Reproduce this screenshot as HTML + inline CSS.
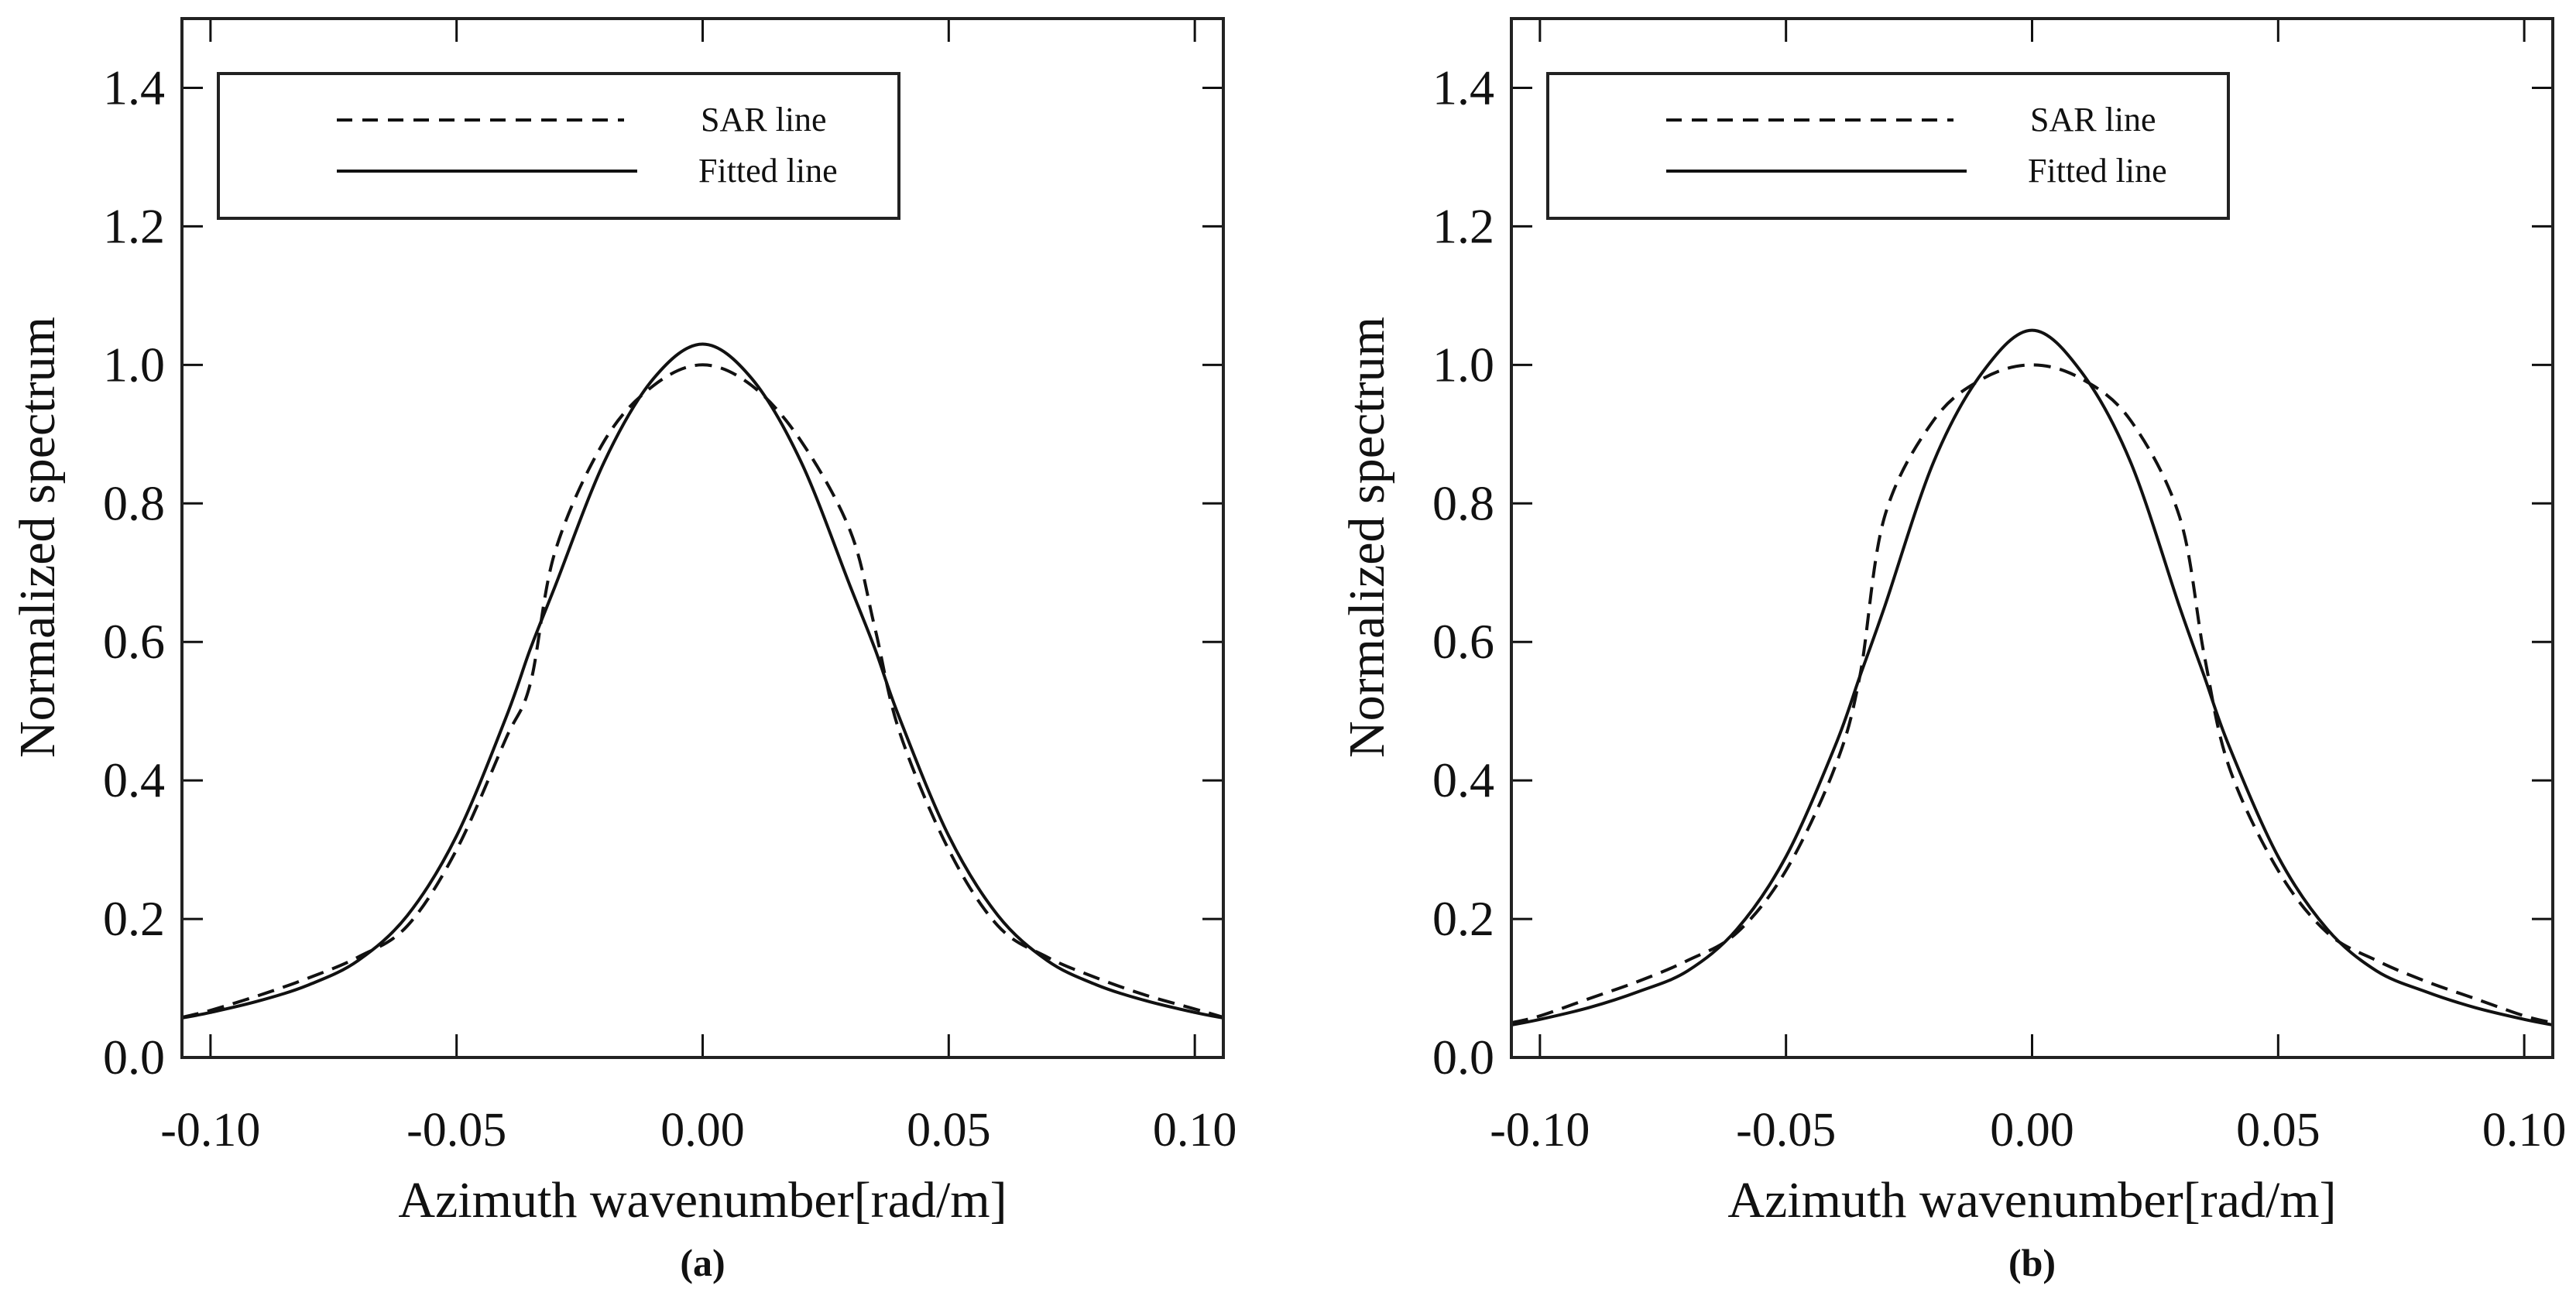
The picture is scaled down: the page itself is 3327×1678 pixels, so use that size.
<!DOCTYPE html>
<html><head><meta charset="utf-8">
<style>
html,body{margin:0;padding:0;background:#fff;}
svg{display:block;font-family:"Liberation Serif",serif;}
</style></head>
<body>
<svg id="fig" width="3327" height="1678" viewBox="0 0 3327 1678" xmlns="http://www.w3.org/2000/svg"></svg>
<script>
const xTicks = [-0.10, -0.05, 0.00, 0.05, 0.10];
const xTickLabels = ["-0.10", "-0.05", "0.00", "0.05", "0.10"];
const yTicks = [0.0, 0.2, 0.4, 0.6, 0.8, 1.0, 1.2, 1.4];
const yTickLabels = ["0.0", "0.2", "0.4", "0.6", "0.8", "1.0", "1.2", "1.4"];
const xs = [-0.1058,-0.10,-0.09,-0.08,-0.07,-0.06,-0.05,-0.04,-0.035,-0.03,-0.02,-0.01,0,0.01,0.02,0.03,0.035,0.04,0.05,0.06,0.07,0.08,0.09,0.10,0.1058];
const sarA =    [0.058,0.068,0.09,0.115,0.145,0.19,0.30,0.46,0.54,0.73,0.89,0.97,1.00,0.97,0.89,0.76,0.62,0.47,0.30,0.19,0.145,0.115,0.09,0.07,0.058];
const fittedA = [0.057,0.065,0.082,0.105,0.14,0.205,0.32,0.49,0.59,0.68,0.86,0.98,1.03,0.98,0.86,0.68,0.59,0.49,0.32,0.205,0.14,0.105,0.082,0.065,0.057];
const sarB =    [0.05,0.06,0.085,0.11,0.14,0.18,0.27,0.42,0.55,0.78,0.92,0.98,1.00,0.98,0.92,0.78,0.58,0.42,0.27,0.18,0.14,0.11,0.085,0.06,0.05];
const fittedB = [0.047,0.055,0.072,0.095,0.125,0.185,0.29,0.45,0.55,0.65,0.86,0.99,1.05,0.99,0.86,0.65,0.55,0.45,0.29,0.185,0.125,0.095,0.072,0.055,0.047];

const NS="http://www.w3.org/2000/svg";
const svg=document.getElementById('fig');
function mk(tag,attrs,parent){const e=document.createElementNS(NS,tag);for(const k in attrs)e.setAttribute(k,attrs[k]);(parent||svg).appendChild(e);return e;}

function smoothPath(pts){
  let d="M"+pts[0][0].toFixed(1)+","+pts[0][1].toFixed(1);
  for(let i=0;i<pts.length-1;i++){
    const p0=pts[i-1]||pts[i],p1=pts[i],p2=pts[i+1],p3=pts[i+2]||p2;
    const c1=[p1[0]+(p2[0]-p0[0])/6,p1[1]+(p2[1]-p0[1])/6];
    const c2=[p2[0]-(p3[0]-p1[0])/6,p2[1]-(p3[1]-p1[1])/6];
    d+=" C"+c1[0].toFixed(1)+","+c1[1].toFixed(1)+" "+c2[0].toFixed(1)+","+c2[1].toFixed(1)+" "+p2[0].toFixed(1)+","+p2[1].toFixed(1);
  }
  return d;
}

function panel(ox, sar, fitted, label, id){
  const L=ox+235, R=ox+1580, T=24, B=1366;
  const xmin=-0.1058,xmax=0.1058,ymin=0,ymax=1.5;
  const X=v=>L+(v-xmin)/(xmax-xmin)*(R-L);
  const Y=v=>B-(v-ymin)/(ymax-ymin)*(B-T);
  const g=mk('g',{});
  
  
  const clipId='clip'+id;
  const cp=mk('clipPath',{id:clipId},g);
  mk('rect',{x:L,y:T,width:R-L,height:B-T},cp);
  xTicks.forEach((t,i)=>{
    const x=X(t);
    const tb=mk('line',{x1:x,y1:B,x2:x,y2:B-30,stroke:'#111','stroke-width':3},g);
    
    
    mk('line',{x1:x,y1:T,x2:x,y2:T+30,stroke:'#111','stroke-width':3},g);
    const tx=mk('text',{x:x,y:1480,'font-size':62,'text-anchor':'middle',fill:'#111'},g);
    tx.textContent=xTickLabels[i];
    
    
  });
  yTicks.forEach((t,i)=>{
    const y=Y(t);
    const tl=mk('line',{x1:L,y1:y,x2:L+27,y2:y,stroke:'#111','stroke-width':3},g);
    
    
    mk('line',{x1:R,y1:y,x2:R-27,y2:y,stroke:'#111','stroke-width':3},g);
    const ty=mk('text',{x:L-22,y:y+21,'font-size':64,'text-anchor':'end',fill:'#111'},g);
    ty.textContent=yTickLabels[i];
    
    
  });
  const cg=mk('g',{'clip-path':'url(#'+clipId+')'},g);
  const ps=xs.map((x,i)=>[X(x),Y(sar[i])]);
  const pf=xs.map((x,i)=>[X(x),Y(fitted[i])]);
  const sl=mk('path',{d:smoothPath(ps),fill:'none',stroke:'#111','stroke-width':4,'stroke-dasharray':'22,12'},cg);
  
  
  const fl=mk('path',{d:smoothPath(pf),fill:'none',stroke:'#111','stroke-width':4},cg);
  
  
  const fr=mk('rect',{x:L,y:T,width:R-L,height:B-T,fill:'none',stroke:'#222','stroke-width':4},g);
  
  
  const lg=mk('g',{},g);
  
  
  mk('rect',{x:ox+282,y:95,width:879,height:187,fill:'#fff',stroke:'#222','stroke-width':4},lg);
  mk('line',{x1:ox+435,y1:155,x2:ox+806,y2:155,stroke:'#111','stroke-width':4,'stroke-dasharray':'20,13'},lg);
  mk('line',{x1:ox+435,y1:221,x2:ox+823,y2:221,stroke:'#111','stroke-width':4},lg);
  const t1=mk('text',{x:ox+905,y:169,'font-size':44,fill:'#111'},lg);t1.textContent='SAR line';
  
  
  const t2=mk('text',{x:ox+902,y:235,'font-size':44,fill:'#111'},lg);t2.textContent='Fitted line';
  
  
  const xt=mk('text',{x:(L+R)/2,y:1572,'font-size':66,'text-anchor':'middle',fill:'#111'},g);
  xt.textContent='Azimuth wavenumber[rad/m]';
  
  
  const yt=mk('text',{x:0,y:0,'font-size':66,'text-anchor':'middle',fill:'#111',transform:'translate('+(ox+70)+',694) rotate(-90)'},g);
  yt.textContent='Normalized spectrum';
  
  
  const pl=mk('text',{x:(L+R)/2,y:1648,'font-size':50,'font-weight':'bold','text-anchor':'middle',fill:'#111'},g);
  pl.textContent=label;
  
  
}
panel(0,sarA,fittedA,'(a)','a');
panel(1717,sarB,fittedB,'(b)','b');
</script>
</body></html>
